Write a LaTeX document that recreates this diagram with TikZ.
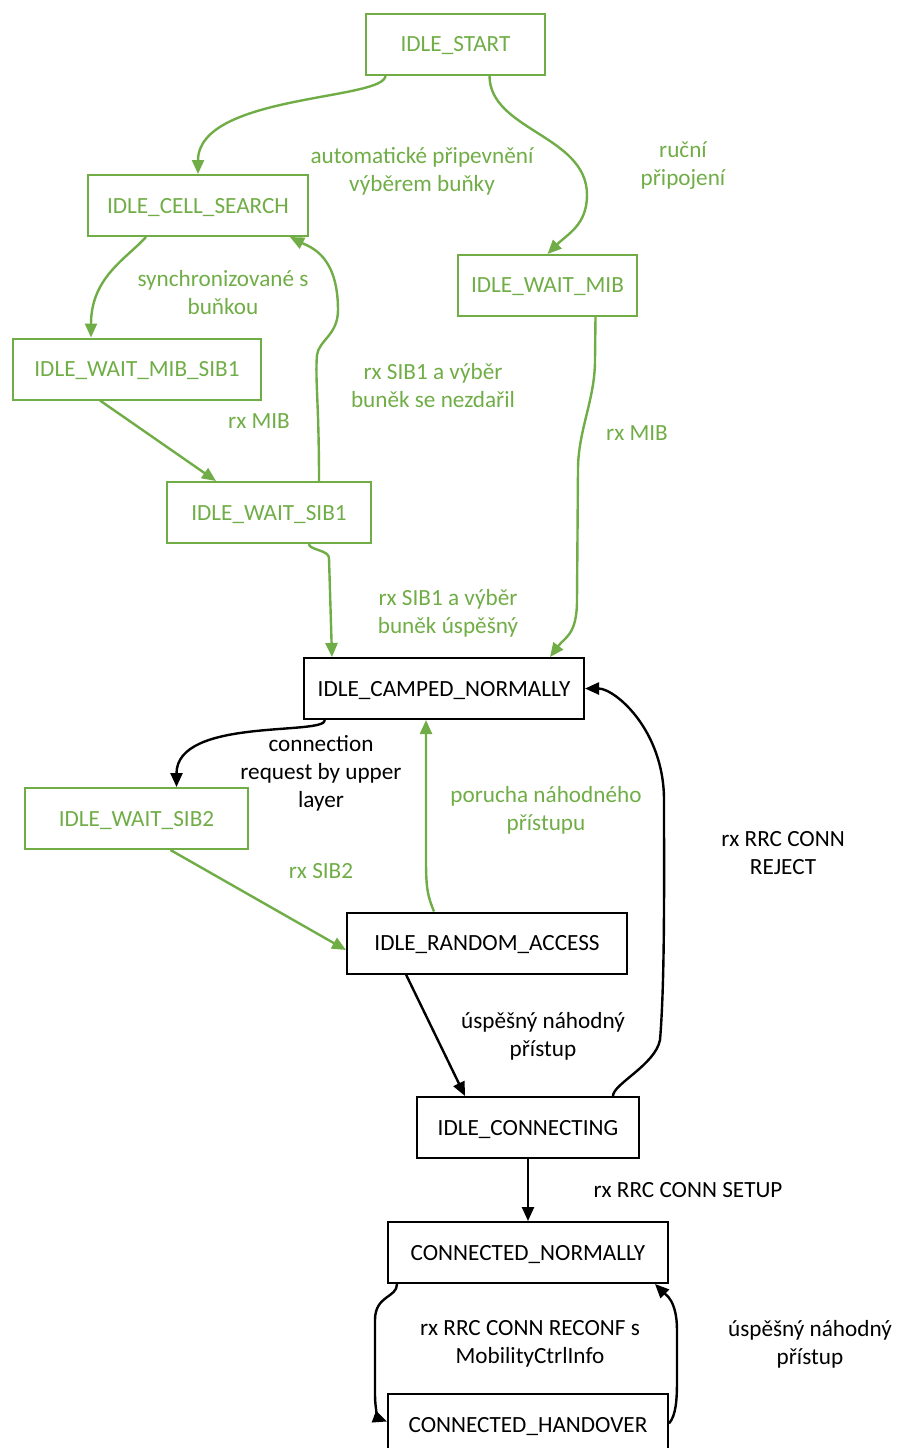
\documentclass[tikz,border=0pt]{standalone}
\usepackage{fontspec}
\setmainfont{Carlito}
\usepackage{tikz}
\usetikzlibrary{arrows,arrows.meta,positioning,calc}
\definecolor{lgreen}{RGB}{112,173,71}
\tikzset{
    greenbox/.style={
        rectangle,
        draw=lgreen,
        text=lgreen,
        line width=1pt,
        minimum height=30.5pt,
        inner sep=0pt,
        text depth=0pt,
    },
    blackbox/.style={
        rectangle,
        draw=black,
        line width=1pt,
        minimum height=30.5pt,
        inner sep=0pt,
        text depth=0pt,
    },
    greenline/.style={->, draw=lgreen, line width=1.2pt},
    blackline/.style={->, draw=black, line width=1.2pt},
    greentext/.style={text=lgreen, align=center},
    blacktext/.style={text=black, align=center},
}
\begin{document}
\begin{tikzpicture}[x=0.5pt,y=-0.5pt,>={Triangle[length=7pt,width=6pt]},font=\fontsize{11.6}{14}\selectfont]
	    \useasboundingbox (0,0) rectangle (898,1448);
	    % states
	    \node [greenbox,minimum width=89.5pt] (start) at (455.5,44) {IDLE\_START};
	    \node [greenbox,minimum width=110pt] (cellsearch) at (198,205.5) {IDLE\_CELL\_SEARCH};
	    \node [greenbox,minimum width=89.5pt] (waitmib) at (547.5,285.5) {IDLE\_WAIT\_MIB};
	    \node [greenbox,minimum width=124pt] (mibsib1) at (137,369) {IDLE\_WAIT\_MIB\_SIB1};
	    \node [greenbox,minimum width=102pt] (sib1) at (269,512.5) {IDLE\_WAIT\_SIB1};
	    \node [blackbox,minimum width=140pt] (camped) at (444,688.5) {IDLE\_CAMPED\_NORMALLY};
	    \node [greenbox,minimum width=111.5pt] (sib2) at (136.5,818.5) {IDLE\_WAIT\_SIB2};
	    \node [blackbox,minimum width=140pt] (rach) at (487,943) {IDLE\_RANDOM\_ACCESS};
	    \node [blackbox,minimum width=111pt] (conn) at (528,1127.5) {IDLE\_CONNECTING};
	    \node [blackbox,minimum width=140pt] (connorm) [below=31pt of conn] {CONNECTED\_NORMALLY};
	    \node [blackbox,minimum width=140pt] (ho) [below=54.5pt of connorm] {CONNECTED\_HANDOVER};
	    % labels
	    \node [greentext] (lauto) at (422,171) {automatické připevnění\\výběrem buňky};
	    \node [greentext] (lmanual) at (683,166) {ruční\\připojení};
	    \node [greentext] (lsync) at (223,293) {synchronizované s\\buňkou};
	    \node [greentext] (lfail) at (433,386) {rx SIB1 a výběr\\buněk se nezdařil};
	    \node [greentext] (lmib1) at (259,421) {rx MIB};
	    \node [greentext] (lmib2) at (637,433) {rx MIB};
	    \node [greentext] (lok) at (448,613) {rx SIB1 a výběr\\buněk úspěšný};
	    \node [blacktext] (lreq) at (321,773) {connection\\request by upper\\layer};
	    \node [greentext] (lrafail) at (546,810) {porucha náhodného\\přístupu};
	    \node [blacktext] (lreject) at (783,853) {rx RRC CONN\\REJECT};
	    \node [greentext] (lsib2) at (321,871) {rx SIB2};
	    \node [blacktext] (lraok) at (543,1036) {úspěšný náhodný\\přístup};
	    \node [blacktext] (lsetup) at (688,1190) {rx RRC CONN SETUP};
	    \node [blacktext] (lreconf) at (530,1344) {rx RRC CONN RECONF s\\MobilityCtrlInfo};
	    \node [blacktext] (lho) at (810,1344) {úspěšný náhodný\\přístup};
	    % transitions
	    \draw [greenline] ($(start.south)+(-70,0)$) .. controls +(0,25) and +(0,-80) .. (cellsearch.north);
	    \draw [greenline] ($(start.south)+(34,0)$) .. controls +(0,55) and +(0,-60) .. (587,195)
	    	.. controls +(0,30) and +(20,-20) .. (waitmib.north);
	    \draw [greenline] ($(cellsearch.south)+(-52,0)$) .. controls +(-20,22) and +(0,-60) .. ($(mibsib1.north)+(-46,0)$);
	    \draw [greenline] ($(mibsib1.south)+(-37,0)$) -- ($(sib1.north)+(-53,0)$);
	    \draw [greenline] ($(sib1.north)+(50,0)$) .. controls +(0,-80) and +(-2,25) .. (317,355)
	    	.. controls +(2,-15) and +(0,25) .. (338,310) .. controls +(0,-55) and +(20,10) .. ($(cellsearch.south)+(92,0)$);
	    \draw [greenline] ($(sib1.south)+(40,0)$) .. controls +(0,6) and +(0,-8) .. (329,558) -- ($(camped.north)+(-112,0)$);
	    \draw [greenline] ($(waitmib.south)+(48,0)$) -- (595,360) .. controls +(0,40) and +(0,-40) .. (578,470)
	    	-- (577,600) .. controls +(0,35) and +(15,-20) .. ($(camped.north)+(106,0)$);
	    \draw [blackline] ($(camped.south)+(-119,0)$) .. controls +(0,16) and +(0,-70) .. ($(sib2.north)+(40,0)$);
	    \draw [greenline] ($(sib2.south)+(34,0)$) -- ($(rach.west)+(0,7)$);
	    \draw [greenline] ($(rach.north)+(-53,0)$) .. controls +(-6,-15) and +(0,30) .. (426,860) -- ($(camped.south)+(-18,0)$);
	    \draw [blackline] ($(rach.south)+(-81,0)$) -- ($(conn.north)+(-63,0)$);
	    \draw [blackline] ($(conn.north)+(85,0)$) .. controls +(0,-12) and +(-5,25) .. (660,1040)
	    	.. controls +(5,-60) and +(0,80) .. (664,800) .. controls +(0,-70) and +(30,0) .. (camped.east);
	    \draw [blackline] (conn) -- (connorm);
	    \draw [blackline] ($(connorm.south)+(-131,0)$) .. controls +(0,14) and +(0,-25) .. (375,1320)
	    	-- (375,1395) .. controls +(0,15) and +(-8,-3) .. ($(ho.west)+(0,-3)$);
	    \draw [blackline] ($(ho.east)+(0,-1)$) .. controls +(7,-8) and +(0,20) .. (677,1380)
	    	-- (677,1330) .. controls +(0,-30) and +(10,10) .. ($(connorm.south)+(127,0)$);
\end{tikzpicture}
\end{document}
